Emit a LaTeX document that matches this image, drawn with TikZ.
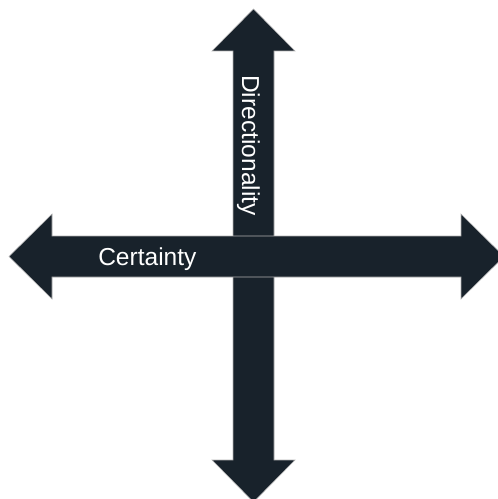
\documentclass[tikz,border=0pt]{standalone}
\usepackage{fontspec}
\setmainfont{Liberation Sans}
\definecolor{axisnavy}{RGB}{24,34,43}
\begin{document}
\begin{tikzpicture}
    [x=0.75pt, y=-0.75pt,
    axis/.style={fill=axisnavy, draw=gray!60, line width=0.4pt, line join=miter},
    axislabel/.style={text=white, font=\fontsize{18.4}{22}\selectfont, inner sep=0pt}]
    \useasboundingbox (0,0) rectangle (497,499);
        %% Vertical axis
    \coordinate (V) at (253.5,256);
    \draw[axis] (233,51) -- (212,51) -- (253.5,9) -- (295,51) -- (274,51)
        -- (274,460) -- (295,460) -- (253.5,502) -- (212,460) -- (233,460) -- cycle;
        %% Horizontal axis
    \coordinate (H) at (256.5,256.5);
    \draw[axis] (52,236) -- (52,214) -- (9,256.5) -- (52,299) -- (52,277)
        -- (461,277) -- (461,299) -- (504,256.5) -- (461,214) -- (461,236) -- cycle;
        %% Labels
    \node[axislabel, anchor=base west] (certainty) at (98,265) {Certainty};
    \node[axislabel, anchor=base west, rotate=-90] (directionality) at (242,75) {Directionality};
\end{tikzpicture}
\end{document}
